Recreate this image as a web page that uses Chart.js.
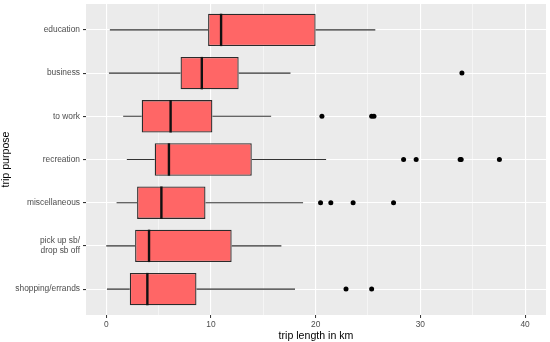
<!DOCTYPE html>
<html lang="en">
<head>
    <meta charset="UTF-8">
    <title>Trip length by purpose</title>
    <script src="https://cdn.jsdelivr.net/npm/chart.js"></script>
    <style>
        html, body { margin: 0; padding: 0; background: #fff; }
        #wrap { width: 550px; height: 342px; }
    </style>
</head>
<body>
    <div id="wrap"><canvas id="tripChart"></canvas></div>

    <script>
        // categories, top to bottom
        const purposes = ['education', 'business', 'to work', 'recreation', 'miscellaneous', ['pick up sb/', 'drop sb off'], 'shopping/errands'];
        // box statistics (km)
        const whiskerLow = [0.35, 0.26, 1.62, 1.97, 0.99, 0.0, 0.07];
        const q1         = [9.73, 7.1, 3.39, 4.63, 2.95, 2.76, 2.25];
        const median     = [10.97, 9.13, 6.15, 5.99, 5.27, 4.09, 3.93];
        const q3         = [20.0, 12.65, 10.14, 13.9, 9.48, 11.98, 8.62];
        const whiskerHigh = [25.7, 17.6, 15.75, 21.0, 18.8, 16.73, 18.03];
        const outliers = [
            [],
            [33.97],
            [20.6, 25.35, 25.57],
            [28.4, 29.6, 33.8, 33.9, 37.55],
            [20.47, 21.45, 23.58, 27.44],
            [],
            [22.9, 25.35]
        ];
        const xTicks = [0, 10, 20, 30, 40];

        const n = purposes.length;
        // ggplot puts the first level at the bottom, so position = n - index
        const pos = i => n - i;

        const boxData = purposes.map((p, i) => ({ x: [q1[i], q3[i]], y: pos(i) }));
        const outlierData = [];
        outliers.forEach((arr, i) => arr.forEach(v => outlierData.push({ x: v, y: pos(i) })));

        // panel background, whiskers and medians
        const boxplotExtras = {
            id: 'boxplotExtras',
            beforeDraw(chart) {
                const a = chart.chartArea, ctx = chart.ctx;
                ctx.save();
                ctx.fillStyle = '#EBEBEB';
                ctx.fillRect(a.left, a.top, a.right - a.left, a.bottom - a.top);
                ctx.restore();
            },
            beforeDatasetsDraw(chart) {
                const xs = chart.scales.x, ys = chart.scales.y, ctx = chart.ctx;
                ctx.save();
                ctx.strokeStyle = '#333333';
                ctx.lineWidth = 1.1;
                purposes.forEach((p, i) => {
                    const y = ys.getPixelForValue(pos(i));
                    ctx.beginPath();
                    ctx.moveTo(xs.getPixelForValue(whiskerLow[i]), y);
                    ctx.lineTo(xs.getPixelForValue(q1[i]), y);
                    ctx.moveTo(xs.getPixelForValue(q3[i]), y);
                    ctx.lineTo(xs.getPixelForValue(whiskerHigh[i]), y);
                    ctx.stroke();
                });
                ctx.restore();
            },
            afterDatasetDraw(chart, args) {
                if (args.index !== 0) return;
                const xs = chart.scales.x, ys = chart.scales.y, ctx = chart.ctx;
                const half = (ys.getPixelForValue(1) - ys.getPixelForValue(2)) * 0.75 / 2;
                ctx.save();
                ctx.strokeStyle = '#111111';
                ctx.lineWidth = 2.4;
                purposes.forEach((p, i) => {
                    const y = ys.getPixelForValue(pos(i));
                    const x = xs.getPixelForValue(median[i]);
                    ctx.beginPath();
                    ctx.moveTo(x, y - half);
                    ctx.lineTo(x, y + half);
                    ctx.stroke();
                });
                ctx.restore();
            }
        };

        const tickFont = { family: 'Liberation Sans, Arial, sans-serif', size: 8.4 };
        const titleFont = { family: 'Liberation Sans, Arial, sans-serif', size: 10.6 };

        new Chart(document.getElementById('tripChart'), {
            type: 'bar',
            data: {
                datasets: [
                    {
                        type: 'bar',
                        data: boxData,
                        backgroundColor: '#FF6666',
                        borderColor: '#2B2B2B',
                        borderWidth: 1.3,
                        borderSkipped: false,
                        barPercentage: 0.75,
                        categoryPercentage: 1
                    },
                    {
                        type: 'scatter',
                        data: outlierData,
                        backgroundColor: '#000000',
                        borderColor: '#000000',
                        pointRadius: 2.5,
                        borderWidth: 0
                    }
                ]
            },
            options: {
                indexAxis: 'y',
                responsive: true,
                maintainAspectRatio: false,
                animation: false,
                layout: { padding: { top: 3, right: 2, left: 0, bottom: 0 } },
                plugins: {
                    legend: { display: false },
                    tooltip: { enabled: false }
                },
                scales: {
                    x: {
                        type: 'linear',
                        min: -1.93,
                        max: 42,
                        offset: false,
                        afterBuildTicks: s => { s.ticks = [0, 5, 10, 15, 20, 25, 30, 35, 40].map(v => ({ value: v })); },
                        afterFit: s => { s.height = 27; s.paddingLeft = 0; s.paddingRight = 0; },
                        border: { display: false },
                        grid: {
                            offset: false,
                            color: '#FFFFFF',
                            lineWidth: c => (xTicks.includes(c.tick.value) ? 1.1 : 0.5),
                            tickColor: '#333333',
                            tickWidth: c => (xTicks.includes(c.tick.value) ? 1 : 0),
                            tickLength: 3
                        },
                        ticks: {
                            color: '#4D4D4D',
                            font: tickFont,
                            padding: 2,
                            maxRotation: 0,
                            callback: v => (xTicks.includes(v) ? v : '')
                        },
                        title: {
                            display: true,
                            text: 'trip length in km',
                            color: '#000000',
                            font: titleFont,
                            padding: { top: 0, bottom: 0 }
                        }
                    },
                    y: {
                        type: 'linear',
                        min: 0.4,
                        max: 7.6,
                        offset: false,
                        afterBuildTicks: s => { s.ticks = purposes.map((p, i) => ({ value: pos(i) })); },
                        afterFit: s => { s.width = 86; s.paddingTop = 0; s.paddingBottom = 0; },
                        border: { display: false },
                        grid: {
                            offset: false,
                            color: '#FFFFFF',
                            lineWidth: 1.1,
                            tickColor: '#333333',
                            tickLength: 3
                        },
                        ticks: {
                            color: '#4D4D4D',
                            font: tickFont,
                            padding: 3,
                            callback: v => purposes[n - v]
                        },
                        title: {
                            display: true,
                            text: 'trip purpose',
                            color: '#000000',
                            font: titleFont,
                            padding: { top: 0, bottom: 0 }
                        }
                    }
                }
            },
            plugins: [boxplotExtras]
        });
    </script>
</body>
</html>
